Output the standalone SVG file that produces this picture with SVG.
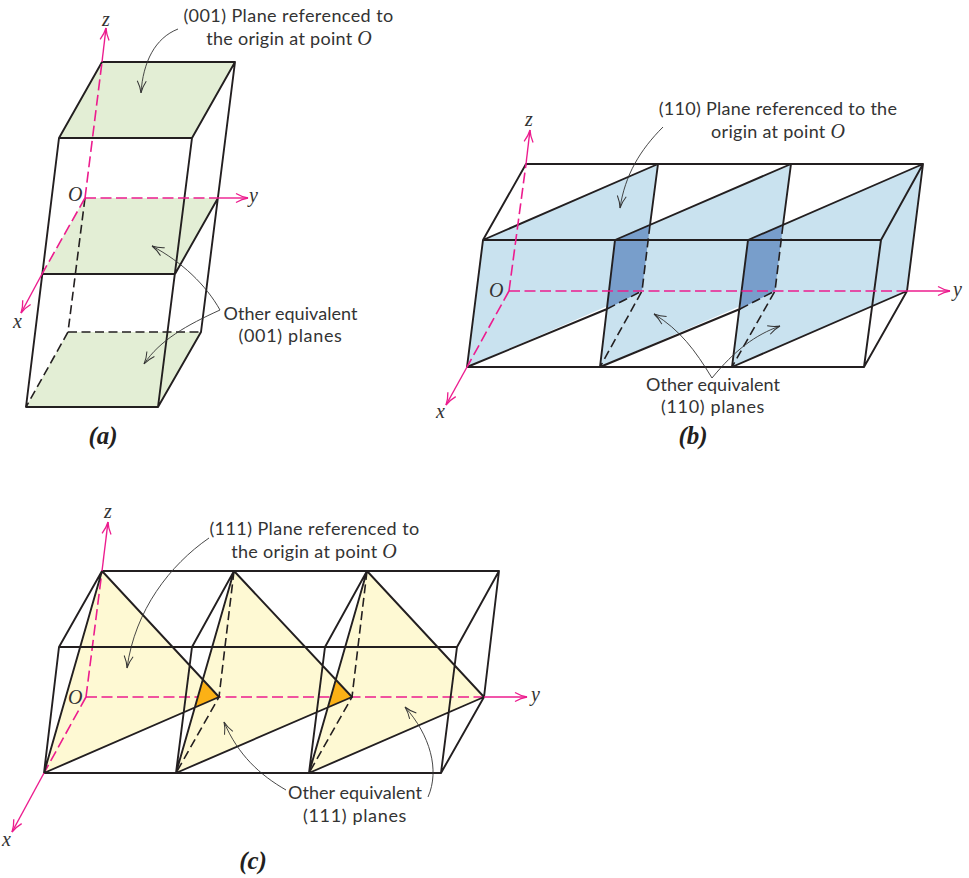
<svg xmlns="http://www.w3.org/2000/svg" width="969" height="878" viewBox="0 0 969 878">
<style>
.e{fill:none;stroke:#231f20;stroke-width:1.9;stroke-linejoin:round;stroke-linecap:round}
.d{fill:none;stroke:#231f20;stroke-width:1.6;stroke-dasharray:9 4.5}
.ax{fill:none;stroke:#ec1c8e;stroke-width:1.4}
.axd{fill:none;stroke:#ec1c8e;stroke-width:1.6;stroke-dasharray:11 4.5}
.l{fill:none;stroke:#333;stroke-width:.9}
.g{fill:#e3eed5}.b{fill:#c9e2ef}.bd{fill:#789ecb}.y{fill:#fef9d3}.o{fill:#fbb116}
.t{font-family:"Lato","Open Sans","Liberation Sans",sans-serif;font-size:18px;letter-spacing:.42px;fill:#333;text-anchor:middle}
.s{letter-spacing:.28px}
.n{letter-spacing:.05px}
.w{letter-spacing:.65px}
.i{font-family:"Liberation Serif",serif;font-style:italic;font-size:20px;letter-spacing:0;fill:#333}
.c{font-family:"Liberation Serif",serif;font-style:italic;font-weight:bold;font-size:25px;fill:#231f20;text-anchor:middle}
</style>
<defs>
<marker id="pa" markerUnits="userSpaceOnUse" markerWidth="16" markerHeight="12" refX="13" refY="6" orient="auto" overflow="visible"><path d="M1,1.5 Q7,5 13,6 Q7,7 1,10.5" fill="none" stroke="#ec1c8e" stroke-width="1.3"/></marker>
<marker id="ka" markerUnits="userSpaceOnUse" markerWidth="16" markerHeight="12" refX="13" refY="6" orient="auto" overflow="visible"><path d="M1,1.5 Q7,5 13,6 Q7,7 1,10.5" fill="none" stroke="#333" stroke-width="1"/></marker>
</defs>

<g id="panel-a">
<polygon class="g" points="102,62 235,62 192,138 59,138"/>
<polygon class="g" points="85,198 218,198 175,274 42,274"/>
<polygon class="g" points="68,332 201,332 158,407 26,407"/>
<path class="e" d="M102,62H235L192,138H59ZM59,138L26,407H158L192,138M235,62L201,332L158,407M42,274H175L218,198"/>
<path class="d" d="M85,198L68,332L26,407M68,332H201"/>
<path class="axd" d="M85,198L102,62M85,198H218M85,198L42,274"/>
<path class="ax" marker-end="url(#pa)" d="M102,62L106,28"/>
<path class="ax" marker-end="url(#pa)" d="M218,198H248"/>
<path class="ax" marker-end="url(#pa)" d="M42,274L21,313"/>
<text class="i" x="102" y="26">z</text><text class="i" x="68" y="201">O</text><text class="i" x="249" y="202">y</text><text class="i" x="13" y="328">x</text>
<text class="t" x="288.5" y="22">(001) Plane referenced to</text>
<text class="t s" x="289" y="45">the origin at point <tspan class="i">O</tspan></text>
<text class="t n" x="290.5" y="320">Other equivalent</text>
<text class="t w" x="290.5" y="342">(001) planes</text>
<text class="c" x="103" y="444">(a)</text>
</g>

<g id="panel-b">
<polygon class="b" points="483,240 658,164 642,291 467,367"/>
<polygon class="b" points="615,240 791,164 775,291 600,367"/>
<polygon class="b" points="748,240 923,164 907,291 732,367"/>
<polygon class="bd" points="615,240 650,225 642,291 607,309"/>
<polygon class="bd" points="748,240 783,225 775,291 740,309"/>
<path class="e" d="M526,164H923L881,240H483ZM483,240L467,367H864L881,240M923,164L907,291L864,367M483,240L658,164L650,225M615,240L791,164L783,225M748,240L923,164M615,240L600,367M748,240L732,367M467,367L607,309M600,367L740,309M732,367L907,291"/>
<path class="d" d="M650,225L642,291L600,367M607,309L642,291M783,225L775,291L732,367M740,309L775,291"/>
<path class="axd" d="M509,291L526,164M509,291H907M509,291L467,367"/>
<path class="ax" marker-end="url(#pa)" d="M526,164L530,130"/>
<path class="ax" marker-end="url(#pa)" d="M907,291H950"/>
<path class="ax" marker-end="url(#pa)" d="M467,367L446,405"/>
<text class="i" x="525" y="126">z</text><text class="i" x="489" y="297">O</text><text class="i" x="953" y="296">y</text><text class="i" x="436" y="418">x</text>
<text class="t s" x="778" y="115">(110) Plane referenced to the</text>
<text class="t s" x="778" y="138">origin at point <tspan class="i">O</tspan></text>
<text class="t n" x="713" y="391">Other equivalent</text>
<text class="t w" x="713" y="413">(110) planes</text>
<text class="c" x="693" y="444">(b)</text>
</g>

<g id="panel-c">
<polygon class="y" points="102,571 44,773 219,697"/>
<polygon class="y" points="234,571 176,773 352,697"/>
<polygon class="y" points="367,571 309,773 484,697"/>
<path class="axd" d="M86,697L102,571M86,697H484M86,697L44,773"/>
<polygon class="o" points="203,681 219,697 195,707"/>
<polygon class="o" points="336,681 352,697 328,707"/>
<path class="e" d="M102,571H499L457,647H59ZM59,647L44,773H441L457,647M499,571L484,697L441,773M102,571L44,773L219,697ZM234,571L176,773L352,697ZM367,571L309,773L484,697ZM234,571L192,647L176,773M367,571L325,647L309,773"/>
<path class="d" d="M234,571L219,697L176,773M367,571L352,697L309,773"/>
<path class="ax" marker-end="url(#pa)" d="M102,571L108,522"/>
<path class="ax" marker-end="url(#pa)" d="M484,697H527"/>
<path class="ax" marker-end="url(#pa)" d="M44,773L12,832"/>
<text class="i" x="104" y="518">z</text><text class="i" x="68" y="704">O</text><text class="i" x="531" y="701">y</text><text class="i" x="2" y="846">x</text>
<text class="t" x="314.5" y="535">(111) Plane referenced to</text>
<text class="t s" x="314" y="558">the origin at point <tspan class="i">O</tspan></text>
<text class="t n" x="355" y="799">Other equivalent</text>
<text class="t w" x="355" y="822">(111) planes</text>
<text class="c" x="253" y="869">(c)</text>
</g>

<g id="connectors">
<path class="l" marker-end="url(#ka)" d="M178,29C155,38 143,62 141,93"/>
<path class="l" marker-end="url(#ka)" d="M220,310C206,285 182,262 152,246"/>
<path class="l" marker-end="url(#ka)" d="M220,310C187,325 160,340 144,364"/>
<path class="l" marker-end="url(#ka)" d="M663,127C640,150 625,175 620,208"/>
<path class="l" marker-end="url(#ka)" d="M712,378C695,350 680,330 654,314"/>
<path class="l" marker-end="url(#ka)" d="M712,378C735,350 755,335 780,326"/>
<path class="l" marker-end="url(#ka)" d="M209,538C170,565 135,610 127,668"/>
<path class="l" marker-end="url(#ka)" d="M286,790C260,775 238,755 224,722"/>
<path class="l" marker-end="url(#ka)" d="M428,797C440,770 430,735 405,707"/>
</g>
</svg>
